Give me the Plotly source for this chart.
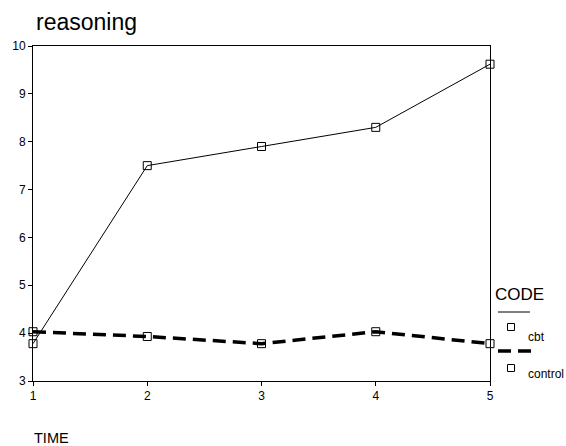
import plotly.graph_objects as go

time = [1, 2, 3, 4, 5]
cbt = [3.78, 7.5, 7.9, 8.3, 9.62]
control = [4.03, 3.93, 3.78, 4.03, 3.78]
y_ticks = [3, 4, 5, 6, 7, 8, 9, 10]
x_ticks = [1, 2, 3, 4, 5]

marker = dict(symbol="square-open", size=8, color="black", line=dict(width=1))

fig = go.Figure()
fig.add_trace(go.Scatter(x=time, y=cbt, mode="lines+markers", name="cbt",
                         line=dict(color="black", width=1), marker=marker,
                         cliponaxis=False, showlegend=False))
fig.add_trace(go.Scatter(x=time, y=control, mode="lines+markers", name="control",
                         line=dict(color="black", width=3.5, dash="13px,7px"), marker=marker,
                         cliponaxis=False, showlegend=False))

font_family = "Liberation Sans, Arial, sans-serif"

fig.update_layout(
    width=566, height=446,
    margin=dict(l=33, r=76, t=46, b=65),
    paper_bgcolor="white", plot_bgcolor="white",
    font=dict(family=font_family, color="black", size=12),
    showlegend=False,
    xaxis=dict(range=[1, 5], tickvals=x_ticks, showgrid=False, zeroline=False,
               showline=True, linecolor="black", linewidth=1, mirror=True,
               ticks="outside", ticklen=4, tickcolor="black", tickfont=dict(size=12)),
    yaxis=dict(range=[3, 10], tickvals=y_ticks, showgrid=False, zeroline=False,
               showline=True, linecolor="black", linewidth=1, mirror=True,
               ticks="outside", ticklen=4, tickcolor="black", tickfont=dict(size=12)),
)

W, H = 457.0, 335.0
def px(xp):
    return (xp - 33) / W
def py(yp):
    return (381 - yp) / H

annotations = [
    dict(text="reasoning", x=px(34), y=py(22), xanchor="left", yanchor="middle",
         font=dict(size=23)),
    dict(text="TIME", x=px(32), y=py(438), xanchor="left", yanchor="middle",
         font=dict(size=14.5)),
    dict(text="CODE", x=px(493), y=py(294), xanchor="left", yanchor="middle",
         font=dict(size=17)),
    dict(text="cbt", x=px(526), y=py(337), xanchor="left", yanchor="middle",
         font=dict(size=12)),
    dict(text="control", x=px(526), y=py(374), xanchor="left", yanchor="middle",
         font=dict(size=12)),
]
for a in annotations:
    a.update(xref="paper", yref="paper", showarrow=False)
fig.update_layout(annotations=annotations)

shapes = [
    dict(type="line", x0=px(498), x1=px(530), y0=py(312), y1=py(312),
         line=dict(color="black", width=1)),
    dict(type="line", x0=px(498), x1=px(531), y0=py(351), y1=py(351),
         line=dict(color="black", width=3.5, dash="13px,7px")),
    dict(type="rect", x0=px(507.5), x1=px(514.5), y0=py(323.5), y1=py(330.5),
         line=dict(color="black", width=1)),
    dict(type="rect", x0=px(507.5), x1=px(514.5), y0=py(364.5), y1=py(371.5),
         line=dict(color="black", width=1)),
]
for s in shapes:
    s.update(xref="paper", yref="paper")
fig.update_layout(shapes=shapes)

fig.write_html("out.html", config={"displayModeBar": False},
               post_script="document.body.style.margin='0';document.body.style.padding='0';")
